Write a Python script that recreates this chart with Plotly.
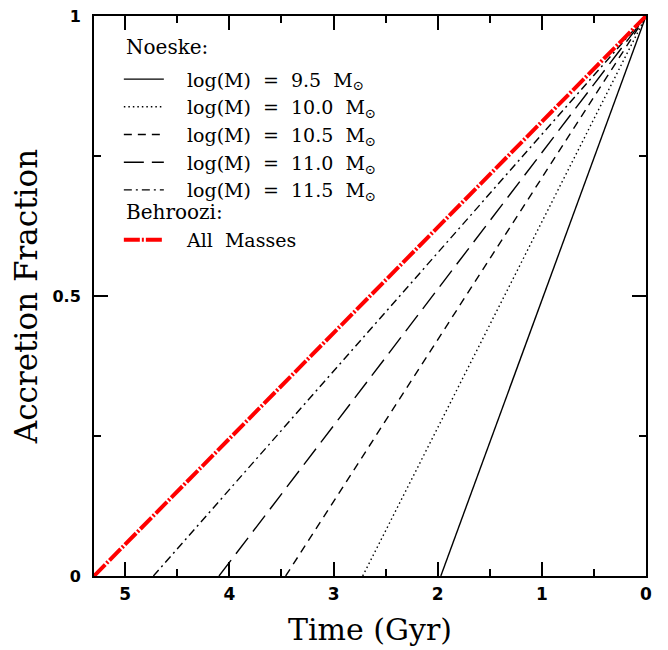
import plotly.graph_objects as go

# Data
noeske_masses = ["9.5", "10.0", "10.5", "11.0", "11.5"]
noeske_start_gyr = [1.97, 2.72, 3.46, 4.10, 4.73]   # time where accretion fraction = 0
behroozi_start_gyr = 5.30
end_gyr = 0.0
frac_start = 0.0
frac_end = 1.0

x_range = [5.3, 0]
x_ticks = [5, 4, 3, 2, 1, 0]
y_ticks = [0, 0.5, 1]
y_ticklabels = ["0", "0.5", "1"]

dashes = ["solid", "1.5px,3px", "8px,6px", "20px,8px", "8px,4px,2px,4px"]

SERIF = "DejaVu Serif"
SANS = "DejaVu Sans"
nb = "\u00a0"

fig = go.Figure()
for m, s, d in zip(noeske_masses, noeske_start_gyr, dashes):
    fig.add_trace(go.Scatter(
        x=[s, end_gyr], y=[frac_start, frac_end], mode="lines",
        line=dict(color="black", width=1.4, dash=d),
        name=f"{nb*3}log(M){nb}{nb}={nb}{nb}{m}{nb}{nb}M<sub>⊙</sub>",
        legend="legend",
    ))

fig.add_trace(go.Scatter(
    x=[behroozi_start_gyr, end_gyr], y=[frac_start, frac_end], mode="lines",
    line=dict(color="red", width=4, dash="16px,2px,2px,2px"),
    name=f"{nb*3}All{nb}{nb}Masses",
    legend="legend2",
))

# invisible trace carrying the mirrored (top/right) axes
fig.add_trace(go.Scatter(
    x=[behroozi_start_gyr, end_gyr], y=[frac_start, frac_end], mode="lines",
    line=dict(color="rgba(0,0,0,0)", width=0), xaxis="x2", yaxis="y2",
    showlegend=False, hoverinfo="skip",
))

tickstyle = dict(ticks="inside", ticklen=14, tickwidth=1.5, tickcolor="black")
line_style = dict(showgrid=False, zeroline=False, showline=True, linecolor="black", linewidth=2, automargin=False)

fig.update_layout(
    xaxis=dict(
        range=x_range, tickvals=x_ticks, ticktext=[str(t) for t in x_ticks], ticklabeloverflow="allow",
        ticklabelstandoff=2,
        minor=dict(dtick=0.5, ticklen=7, ticks="inside", tickwidth=1.5, tickcolor="black"),
        title=dict(text="Time (Gyr)", font=dict(family=SERIF, size=30, color="black"), standoff=16),
        tickfont=dict(family=SANS, size=17, color="black", weight="bold"), **tickstyle, **line_style,
    ),
    yaxis=dict(
        range=[0, 1], tickvals=y_ticks, ticktext=y_ticklabels, ticklabelstandoff=8, ticklabeloverflow="allow",
        minor=dict(dtick=0.25, ticklen=7, ticks="inside", tickwidth=1.5, tickcolor="black"),
        title=dict(text="Accretion Fraction", font=dict(family=SERIF, size=31, color="black"), standoff=10),
        tickfont=dict(family=SANS, size=16, color="black", weight="bold"), **tickstyle, **line_style,
    ),
    xaxis2=dict(
        overlaying="x", side="top", range=x_range, tickvals=x_ticks, showticklabels=False,
        minor=dict(dtick=0.5, ticklen=7, ticks="inside", tickwidth=1.5, tickcolor="black"),
        **tickstyle, **line_style,
    ),
    yaxis2=dict(
        overlaying="y", side="right", range=[0, 1], tickvals=y_ticks, showticklabels=False,
        minor=dict(dtick=0.25, ticklen=7, ticks="inside", tickwidth=1.5, tickcolor="black"),
        **tickstyle, **line_style,
    ),
    width=668, height=650,
    margin=dict(l=86, r=30, t=8, b=82, autoexpand=False),
    paper_bgcolor="white", plot_bgcolor="white",
    legend=dict(
        x=0.045, y=0.921, xanchor="left", yanchor="top",
        bgcolor="rgba(0,0,0,0)", borderwidth=0,
        font=dict(family=SERIF, size=19, color="black"),
        itemwidth=40, tracegroupgap=0,
    ),
    legend2=dict(
        x=0.045, y=0.634, xanchor="left", yanchor="top",
        bgcolor="rgba(0,0,0,0)", borderwidth=0,
        font=dict(family=SERIF, size=19, color="black"),
        itemwidth=40,
    ),
    annotations=[
        dict(text="Noeske:", xref="paper", yref="paper", x=0.055, y=0.9455,
             xanchor="left", yanchor="middle", showarrow=False,
             font=dict(family=SERIF, size=20, color="black")),
        dict(text="Behroozi:", xref="paper", yref="paper", x=0.055, y=0.65,
             xanchor="left", yanchor="middle", showarrow=False,
             font=dict(family=SERIF, size=20, color="black")),
    ],
    showlegend=True,
)

fig.write_html("out.html")
